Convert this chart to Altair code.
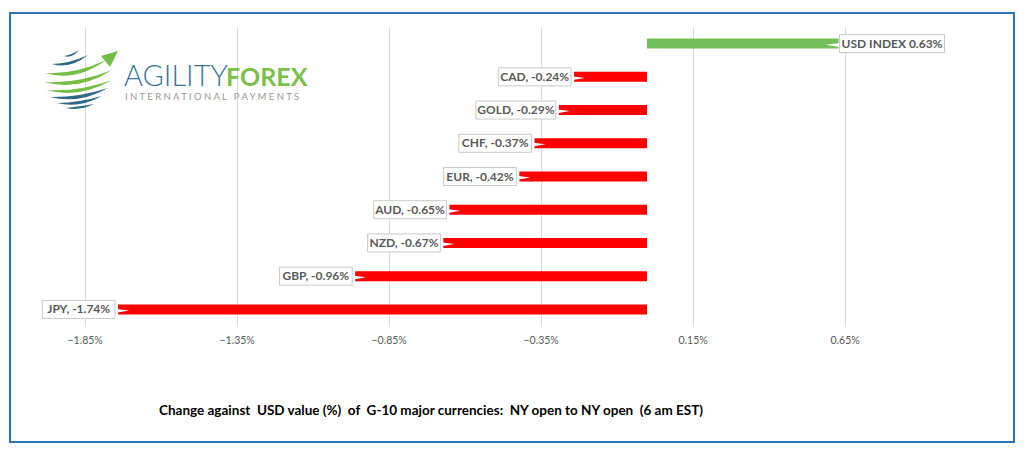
import altair as alt
import pandas as pd

# ---- data ----
names = ["USD INDEX", "CAD", "GOLD", "CHF", "EUR", "AUD", "NZD", "GBP", "JPY"]
changes = [0.63, -0.24, -0.29, -0.37, -0.42, -0.65, -0.67, -0.96, -1.74]
labels = ["USD INDEX 0.63%", "CAD, -0.24%", "GOLD, -0.29%", "CHF, -0.37%", "EUR, -0.42%",
          "AUD, -0.65%", "NZD, -0.67%", "GBP, -0.96%", "JPY, -1.74%"]
tick_values = [-1.85, -1.35, -0.85, -0.35, 0.15, 0.65]
title_text = "Change against\u00a0 USD value (%)\u00a0 of\u00a0 G-10 major currencies:\u00a0 NY open to NY open\u00a0 (6 am EST)"

# ---- layout ----
X_MIN, X_MAX = -2.0, 1.0
W, H = 912, 299
K = W / (X_MAX - X_MIN)  # px per unit
FONT = "Lato"


def text_px(s):
    w = 0.0
    for ch in s:
        if ch.isupper():
            w += 7.2
        elif ch.isdigit():
            w += 6.1
        elif ch == "%":
            w += 8.5
        elif ch == "-":
            w += 3.7
        else:
            w += 3.2
    return w + 11


rows = []
for n, v, lab in zip(names, changes, labels):
    wpx = text_px(lab)
    if v < 0:
        hi = v - 3 / K
        lo = hi - wpx / K
        wedge = hi + 7 / K
    else:
        lo = v + 1 / K
        hi = lo + wpx / K
        wedge = lo - 7 / K
    rows.append(dict(name=n, value=v, label=lab, lo=lo, hi=hi, mid=(lo + hi) / 2,
                     wedge=wedge, pos=v >= 0))
df = pd.DataFrame(rows)

xscale = alt.Scale(domain=[X_MIN, X_MAX], nice=False, zero=False)
xaxis = alt.Axis(values=tick_values, grid=True, gridColor="#d9d9d9", gridWidth=1,
                 domain=False, ticks=False, labelPadding=9,
                 labelExpr="format(datum.value, '.2f') + '%'",
                 labelColor="#595959", labelFont=FONT, labelFontSize=10.5)
yenc = alt.Y("name:N", sort=names, axis=None,
             scale=alt.Scale(paddingInner=0, paddingOuter=0))

base = alt.Chart(df)

bars = base.mark_bar(size=10).encode(
    x=alt.X("value:Q", scale=xscale, title=None, axis=xaxis),
    x2=alt.datum(0),
    y=yenc,
    color=alt.Color("pos:N", scale=alt.Scale(domain=[True, False], range=["#74BF5C", "#FF0000"]),
                    legend=None),
)

boxes = base.mark_bar(size=18, fill="white", stroke="#c9c9c9", strokeWidth=1).encode(
    x=alt.X("lo:Q", scale=xscale, title=None, axis=xaxis),
    x2="hi:Q",
    y=yenc,
)

wedge_r = base.transform_filter("!datum.pos").mark_point(
    shape="M -1 -0.1 L 1 0.15 L -1 0.5 Z", size=196, filled=True, fill="white",
    opacity=1, strokeWidth=0).encode(
    x=alt.X("wedge:Q", scale=xscale, title=None, axis=xaxis), y=yenc)

wedge_l = base.transform_filter("datum.pos").mark_point(
    shape="M 1 -0.1 L -1 0.15 L 1 0.5 Z", size=196, filled=True, fill="white",
    opacity=1, strokeWidth=0).encode(
    x=alt.X("wedge:Q", scale=xscale, title=None, axis=xaxis), y=yenc)

texts = base.mark_text(font=FONT, fontSize=12, fontWeight="bold", color="#595959",
                       align="center", baseline="middle").encode(
    x=alt.X("mid:Q", scale=xscale, title=None, axis=xaxis), y=yenc, text="label:N")

# ---- decorations (frame, logo, caption) ----
one = alt.Data(values=[{}])
OX, OY = 39, 27  # plot origin on the page

frame = alt.Chart(one).mark_rect(fillOpacity=0, stroke="#2E75B6", strokeWidth=2).encode(
    x=alt.value(10 - OX), x2=alt.value(1014 - OX),
    y=alt.value(13 - OY), y2=alt.value(442 - OY))

CX, CY, R = 81, 79, 37


def nx(x):
    return round((x - CX) / R, 3)


def ny(y):
    return round((y - CY) / R, 3)


def crescent(x0, y0, x1, y1, sag, thick):
    xm = (x0 + x1) / 2
    ym = (y0 + y1) / 2
    c1 = ym + 2 * sag
    c2 = ym + 2 * (sag - thick)
    return (f"M {nx(x0)} {ny(y0)} Q {nx(xm)} {ny(c1)} {nx(x1)} {ny(y1)} "
            f"Q {nx(xm)} {ny(c2)} {nx(x0)} {ny(y0)} Z ")


blue_path = (crescent(64, 56, 79, 50, 3, 2) + crescent(52, 64, 88, 55, 5, 3)
             + crescent(50, 97, 108, 88, 6, 3.5) + crescent(57, 103, 102, 96, 4.5, 3)
             + crescent(66, 108, 94, 104, 2.5, 2.2))
green_path = (crescent(45, 73, 106, 60, 8, 4) + crescent(44, 82, 112, 70, 8, 4)
              + crescent(46, 90, 112, 80, 7, 3.5)
              + f"M {nx(101)} {ny(56)} L {nx(118)} {ny(51)} L {nx(110)} {ny(67)} Z")

globe_blue = alt.Chart(one).mark_point(shape=blue_path, size=(2 * R) ** 2, filled=True,
                                       fill="#2F6786", opacity=1, strokeWidth=0).encode(
    x=alt.value(CX - OX), y=alt.value(CY - OY))
globe_green = alt.Chart(one).mark_point(shape=green_path, size=(2 * R) ** 2, filled=True,
                                        fill="#76BD45", opacity=1, strokeWidth=0).encode(
    x=alt.value(CX - OX), y=alt.value(CY - OY))

agility = alt.Chart(one).mark_text(text="AGILITY", font=FONT, fontSize=29, fontWeight=300,
                                   color="#3A7496", align="left", baseline="alphabetic").encode(
    x=alt.value(124 - OX), y=alt.value(86 - OY))
forex = alt.Chart(one).mark_text(text="FOREX", font=FONT, fontSize=25, fontWeight="bold",
                                 color="#7CBF4A", align="left", baseline="alphabetic").encode(
    x=alt.value(226 - OX), y=alt.value(86 - OY))
intl = alt.Chart(one).mark_text(text="I N T E R N A T I O N A L\u00a0\u00a0 P A Y M E N T S",
                                font=FONT, fontSize=9.5, color="#9a9a9a", align="left",
                                baseline="alphabetic").encode(
    x=alt.value(125 - OX), y=alt.value(100 - OY))

caption = alt.Chart(one).mark_text(text=title_text, font=FONT, fontSize=13.5, fontWeight="bold",
                                   color="#000000", align="center", baseline="middle").encode(
    x=alt.value(431 - OX), y=alt.value(411 - OY))

chart = alt.layer(frame, bars, wedge_r, wedge_l, boxes, texts,
                  globe_blue, globe_green, agility, forex, intl, caption).properties(
    width=W, height=H,
    autosize=alt.AutoSizeParams(type="none"),
    padding={"left": 31, "top": 19, "right": 65, "bottom": 118},
    background="white",
).configure_view(stroke=None)

chart.save("out.html", embed_options={"renderer": "svg", "actions": False})
